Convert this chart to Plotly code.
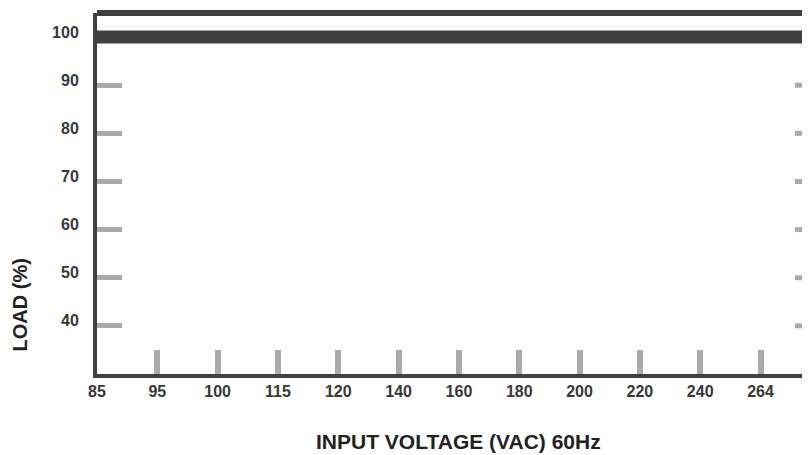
import plotly.graph_objects as go

voltages = ["85", "95", "100", "115", "120", "140", "160", "180", "200", "220", "240", "264"]
load_pct = [100, 100, 100, 100, 100, 100, 100, 100, 100, 100, 100, 100]
y_ticks = [40, 50, 60, 70, 80, 90, 100]
x_title = "INPUT VOLTAGE (VAC) 60Hz"
y_title = "LOAD (%)"

DARK = "#404040"
GRAY = "#aaaaaa"
FONT = "Liberation Sans"

idx = list(range(len(voltages)))
# curve continues flat past the last labelled voltage
line_x = idx + [len(voltages)]
line_y = load_pct + [load_pct[-1]]

fig = go.Figure()
fig.add_trace(go.Scatter(x=line_x, y=line_y, mode="lines",
                         line=dict(color=DARK, width=13), hoverinfo="skip",
                         showlegend=False))

shapes = []
# right-side tick marks (frame is just beyond the visible edge)
for v in y_ticks:
    shapes.append(dict(type="line", xref="paper", yref="y", xsizemode="pixel",
                       xanchor=1, x0=-15, x1=0, y0=v, y1=v,
                       line=dict(color=GRAY, width=5), layer="below"))
# top frame line
shapes.append(dict(type="line", xref="paper", yref="paper", x0=0, x1=1, y0=1, y1=1,
                   line=dict(color=DARK, width=6)))

fig.update_layout(
    width=802, height=447,
    margin=dict(l=89, r=0, t=5, b=81),
    paper_bgcolor="white", plot_bgcolor="white",
    shapes=shapes,
    xaxis=dict(range=[0, 11.82], tickmode="array", tickvals=idx, ticktext=voltages,
               showgrid=False, zeroline=False, showline=True, linecolor=DARK, linewidth=4,
               ticks="inside", ticklen=24, tickwidth=6, tickcolor=GRAY,
               tickfont=dict(family=FONT, size=16, color="#383838", weight="bold"),
               ticklabelstandoff=0, layer="below traces"),
    yaxis=dict(range=[30, 105], tickmode="array", tickvals=y_ticks,
               showgrid=False, zeroline=False, showline=True, linecolor=DARK, linewidth=4,
               ticks="inside", ticklen=25, tickwidth=5, tickcolor=GRAY,
               tickfont=dict(family=FONT, size=16, color="#383838", weight="bold"),
               ticklabelstandoff=11, ticklabelshift=-5, layer="below traces"),
    annotations=[
        dict(text=x_title, xref="paper", yref="paper", x=0.5, y=0, yshift=-67,
             xshift=5, showarrow=False, xanchor="center", yanchor="middle",
             font=dict(family=FONT, size=21, color="#222222", weight="bold")),
        dict(text=y_title, xref="paper", yref="paper", x=0, xshift=-77, y=0.19,
             showarrow=False, textangle=-90, xanchor="center", yanchor="middle",
             font=dict(family=FONT, size=20, color="#222222", weight="bold")),
    ],
)

fig.write_html("out.html")
